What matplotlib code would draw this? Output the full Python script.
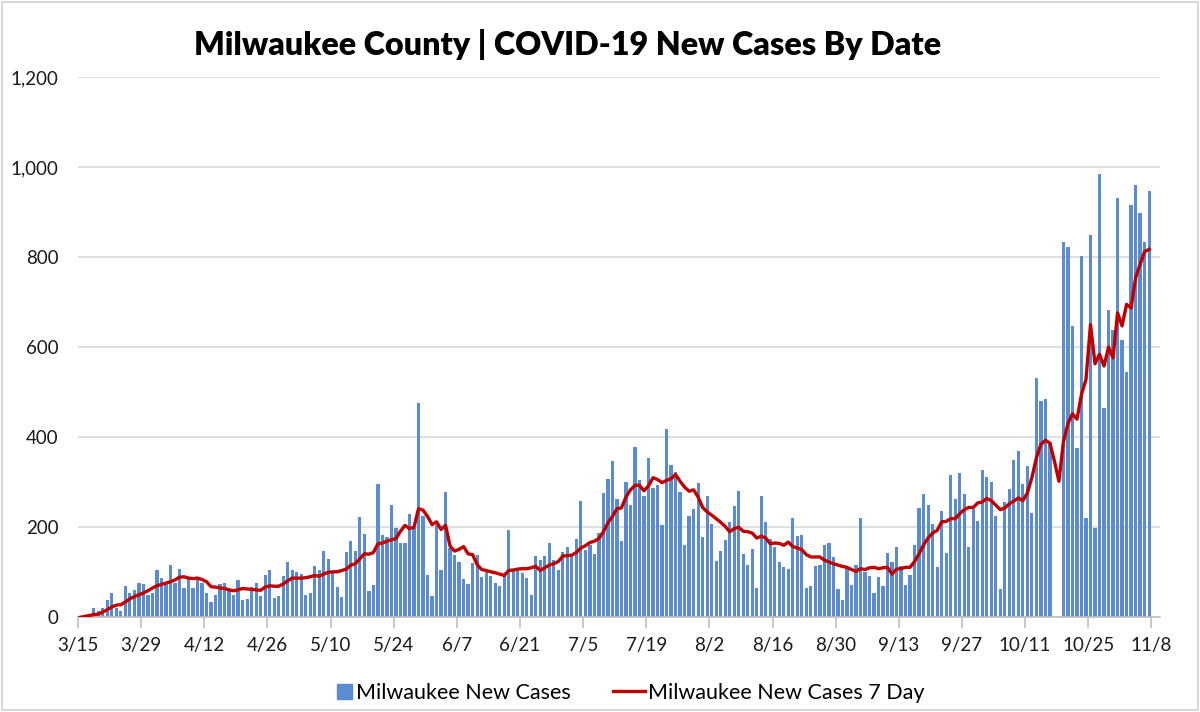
import numpy as np
import matplotlib
matplotlib.use("Agg")
import matplotlib.pyplot as plt
from matplotlib.patches import Rectangle
from matplotlib.legend_handler import HandlerPatch
from matplotlib.ticker import FuncFormatter

# daily new cases, 3/15 .. 11/7
new_cases = [
    1, 2, 7, 21, 13, 21, 38, 55, 21, 13, 70, 55, 61, 77, 74, 50, 55, 104, 87, 74,
    116, 77, 107, 65, 86, 65, 83, 77, 55, 33, 50,
    73, 76, 59, 50, 83, 38, 41, 68, 77, 47, 93, 104, 42, 47, 91, 123, 104, 101, 96,
    50, 55, 114, 104, 147, 130, 99, 68, 46, 144, 170,
    147, 222, 184, 59, 71, 296, 182, 178, 250, 199, 165, 164, 230, 199, 476, 226, 95,
    47, 206, 104, 279, 154, 139, 123, 85, 73, 121, 139, 89,
    102, 92, 76, 69, 92, 194, 102, 105, 98, 87, 50, 136, 127, 136, 166, 127, 105, 144,
    156, 139, 173, 258, 150, 161, 141, 187, 276, 307, 348, 262,
    169, 300, 250, 378, 304, 269, 353, 287, 293, 206, 419, 339, 323, 279, 161, 225,
    240, 299, 178, 270, 207, 126, 147, 172, 212, 247, 281, 141, 116, 151,
    64, 269, 212, 173, 156, 122, 111, 108, 220, 181, 182, 64, 70, 113, 116, 161, 164,
    135, 62, 38, 110, 72, 116, 220, 100, 92, 53, 90, 69, 143,
    123, 156, 113, 72, 93, 161, 242, 273, 249, 207, 111, 237, 142, 315, 263, 321, 273,
    156, 241, 214, 327, 311, 301, 224, 62, 256, 285, 349,
    369, 295, 335, 231, 532, 481, 484, 386, 0, 0, 833, 822, 646, 375, 802, 221, 850,
    198, 984, 465, 682, 638, 930, 616, 545, 915, 959, 897, 834, 947,
]

# 7 day line
seven_day = [
    0, 2, 4, 6, 7, 12, 17, 23, 27, 28, 34, 41, 46, 50, 54, 59, 65, 70, 73, 76, 79, 83,
    89, 90, 87, 86, 87, 84, 79, 68, 67,
    65, 64, 61, 59, 61, 64, 63, 62, 61, 60, 67, 70, 69, 69, 74, 81, 87, 87, 87, 88, 90,
    93, 91, 96, 100, 101, 101, 104, 107, 116,
    119, 130, 141, 140, 144, 163, 165, 169, 172, 175, 191, 204, 197, 200, 241, 238, 224,
    206, 212, 195, 204, 158, 147, 151, 157, 141, 139, 117, 106,
    104, 101, 99, 96, 93, 104, 105, 107, 108, 108, 110, 113, 104, 110, 116, 119, 124,
    136, 137, 138, 144, 154, 159, 166, 169, 175, 190, 210, 224, 241,
    243, 267, 283, 293, 293, 281, 292, 310, 306, 299, 304, 308, 317, 302, 289, 280, 283,
    267, 244, 234, 227, 219, 211, 202, 190, 197, 200, 191, 190, 187,
    176, 180, 176, 163, 165, 164, 160, 167, 157, 154, 150, 139, 134, 134, 134, 127, 123,
    119, 116, 113, 111, 106, 102, 108, 106, 110, 111, 108, 110, 111,
    96, 107, 108, 111, 111, 124, 141, 161, 176, 187, 193, 212, 213, 219, 219, 230, 239,
    244, 244, 254, 256, 264, 259, 249, 239, 243, 252, 258,
    265, 259, 276, 310, 354, 384, 393, 387, 347, 302, 390, 430, 452, 440, 495, 528, 650,
    563, 584, 558, 600, 576, 676, 647, 695, 687, 754, 784, 812, 817,
]

tick_labels = ["3/15", "3/29", "4/12", "4/26", "5/10", "5/24", "6/7", "6/21", "7/5",
               "7/19", "8/2", "8/16", "8/30", "9/13", "9/27", "10/11", "10/25", "11/8"]

plt.rcParams['font.family'] = ['Lato', 'DejaVu Sans']

days = np.arange(len(new_cases)) + 0.5
bar_color = '#5B8BD1'

fig = plt.figure(figsize=(12, 7.12), dpi=100)
ax = fig.add_axes([0.065, 0.133, 0.902, 0.759])

ax.bar(days, new_cases, width=0.72, color=bar_color, zorder=2)
line, = ax.plot(days, seven_day, color='#C00000', lw=2.4, zorder=3)

ax.set_xlim(0, 240)
ax.set_ylim(0, 1200)
ax.set_yticks(np.arange(0, 1201, 200))
ax.yaxis.set_major_formatter(FuncFormatter(lambda v, p: f"{int(v):,}"))
ax.set_xticks(np.arange(len(tick_labels)) * 14)
ax.set_xticklabels(tick_labels)

ax.grid(axis='y', color='#D9D9D9', lw=1.2, zorder=0)
for s in ['top', 'right', 'left']:
    ax.spines[s].set_visible(False)
ax.spines['bottom'].set_color('#BFBFBF')
ax.spines['bottom'].set_linewidth(1.2)
ax.tick_params(axis='y', length=0, labelsize=13.5, pad=14, colors='#1a1a1a')
ax.tick_params(axis='x', length=8, width=1.2, color='#BFBFBF', labelsize=13.5, pad=6,
               labelcolor='#1a1a1a')

fig.text(0.473, 0.937, "Milwaukee County | COVID-19 New Cases By Date",
         ha='center', va='center', fontsize=23.2, fontweight='heavy')


# small square for the bar entry, like the Excel legend
def small_square(legend, orig_handle, xdescent, ydescent, width, height, fontsize):
    s = height
    return Rectangle((-xdescent + width - s, -ydescent), s, s)


bar_proxy = Rectangle((0, 0), 1, 1, color=bar_color)
fig.legend([bar_proxy, line], ['Milwaukee New Cases', 'Milwaukee New Cases 7 Day'],
           loc='center', bbox_to_anchor=(0.519, 0.027), ncol=2, frameon=False,
           fontsize=15.5, handlelength=1.45, handletextpad=0.15, columnspacing=2.0,
           handler_map={bar_proxy: HandlerPatch(patch_func=small_square)})

fig.patches.append(Rectangle((0.002, 0.003), 0.996, 0.994, transform=fig.transFigure,
                             fill=False, edgecolor='#D0D0D0', lw=1.2))

fig.savefig("out.png", dpi=100)
